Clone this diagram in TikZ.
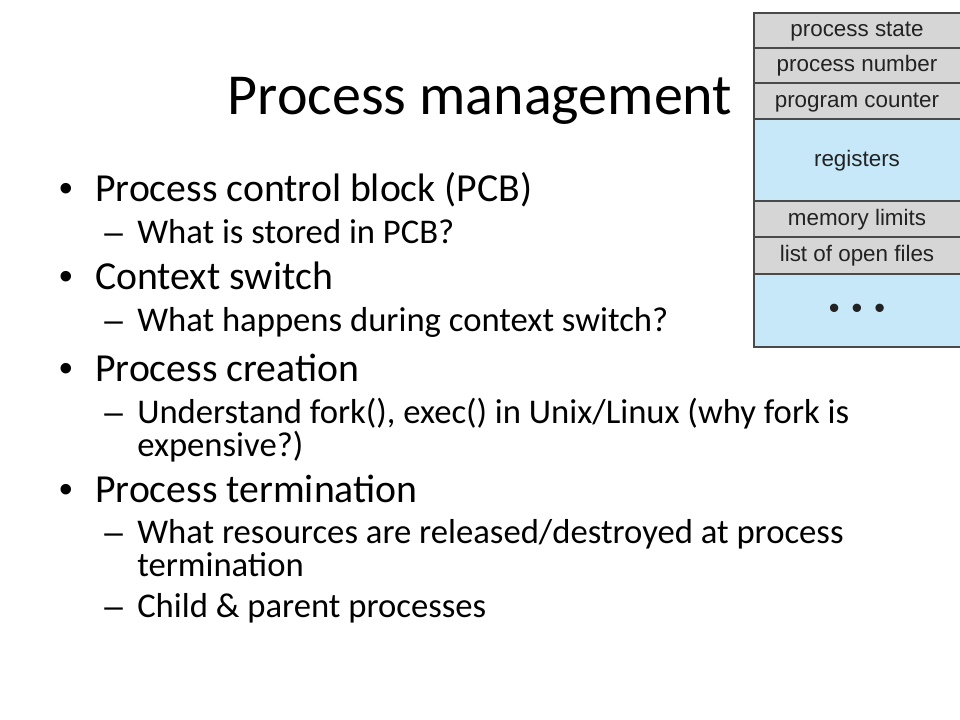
\documentclass[tikz,border=0pt]{standalone}
\usepackage{fontspec}
\setmainfont{Carlito}
\newfontfamily\pcbfont{Liberation Sans}
\definecolor{pcbgrey}{HTML}{D6D6D6}
\definecolor{pcbblue}{HTML}{C6E8F8}
\definecolor{pcbline}{HTML}{4A4A4A}
\definecolor{pcbtext}{HTML}{222222}
\tikzset{
  slidetitle/.style={anchor=base, inner sep=0pt, font=\fontsize{43.5}{50}\selectfont},
  lvlone/.style={anchor=base west, inner sep=0pt, font=\fontsize{29.8}{35}\selectfont},
  lvltwo/.style={anchor=base west, inner sep=0pt, font=\fontsize{26}{31}\selectfont},
  bulmark/.style={anchor=base west, inner sep=0pt, font=\pcbfont\fontsize{29}{35}\selectfont},
  dashmark/.style={anchor=base west, inner sep=0pt, font=\pcbfont\fontsize{25}{31}\selectfont},
  pcbcell/.style={anchor=base, text=pcbtext, inner sep=0pt, font=\pcbfont\fontsize{16.8}{20}\selectfont},
}
\begin{document}
\begin{tikzpicture}[x=0.75pt, y=-0.75pt]
  \useasboundingbox (0,0) rectangle (960,720);
  \node[slidetitle] (title) at (480,115) {Process management};
  % bullets
  \foreach \y/\nm/\txt in {201.7/pcb/Process control block (PCB),
                            290/ctx/Context switch,
                            381.7/create/Process creation,
                            502.5/term/Process termination} {
    \node[bulmark] (\nm bul) at (59,\y) {\textbullet};
    \node[lvlone] (\nm) at (95,\y) {\txt};
  }
  % sub items
  \foreach \y/\nm/\txt in {243.3/pcbq/What is stored in PCB?,
                            331.7/ctxq/What happens during context switch?,
                            423/createq/{Understand fork(), exec() in Unix/Linux (why fork is},
                            543/termq/{What resources are released/destroyed at process},
                            617/childq/Child \& parent processes} {
    \node[dashmark] (\nm dash) at (104,\y) {\textendash};
    \node[lvltwo] (\nm) at (137,\y) {\txt};
  }
  \node[lvltwo] (createw) at (137,456.5) {expensive?)};
  \node[lvltwo] (termw) at (137,576.5) {termination};
  % PCB
  \foreach \top/\bot/\col/\nm/\txt in {13/48/pcbgrey/state/process state,
                                       48/83/pcbgrey/number/process number,
                                       83/119/pcbgrey/counter/program counter,
                                       119/201/pcbblue/regs/registers,
                                       201/237/pcbgrey/mem/memory limits,
                                       237/274/pcbgrey/files/list of open files,
                                       274/347/pcbblue/more/} {
    \filldraw[fill=\col, draw=pcbline, line width=0.9pt] (754,\top) rectangle (962,\bot);
    \node[pcbcell] (\nm) at (857,{(\top+\bot)/2+6.2}) {\txt};
  }
  \node[pcbcell, anchor=center, font=\pcbfont\fontsize{23}{26}\selectfont] (dots) at (857,311.7)
    {\textbullet\hspace{9pt}\textbullet\hspace{9pt}\textbullet};
\end{tikzpicture}
\end{document}
